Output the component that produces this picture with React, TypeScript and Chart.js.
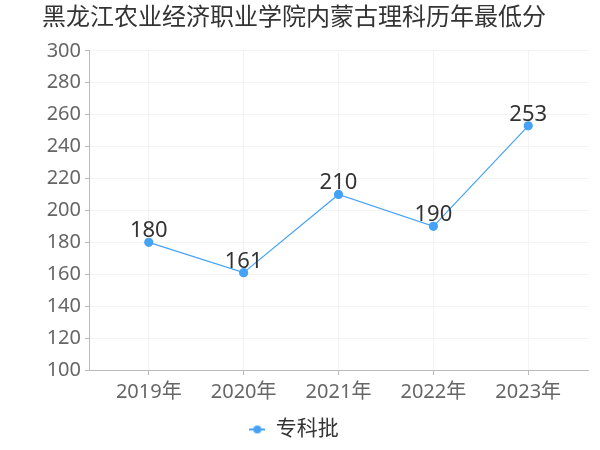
import React, { useEffect, useRef } from "react";
import { Chart, registerables } from "chart.js";

Chart.register(...registerables);

const titleText = "黑龙江农业经济职业学院内蒙古理科历年最低分";
const categories = ["2019年", "2020年", "2021年", "2022年", "2023年"];
const seriesName = "专科批";
const seriesValues = [180, 161, 210, 190, 253];
const yMin = 100;
const yMax = 300;
const yStep = 20;

const FONT = '"Noto Sans", "Noto Sans CJK SC", sans-serif';
const LINE_COLOR = "#45a2f7";

function makeLegendIcon(): HTMLCanvasElement {
  const c = document.createElement("canvas");
  c.width = 16;
  c.height = 10;
  const ctx = c.getContext("2d")!;
  ctx.strokeStyle = LINE_COLOR;
  ctx.lineWidth = 2;
  ctx.beginPath();
  ctx.moveTo(0, 5);
  ctx.lineTo(16, 5);
  ctx.stroke();
  ctx.fillStyle = LINE_COLOR;
  ctx.beginPath();
  ctx.arc(8, 5, 4, 0, Math.PI * 2);
  ctx.fill();
  return c;
}

const valueLabels = {
  id: "valueLabels",
  afterDatasetsDraw(chart: any) {
    const ctx = chart.ctx;
    const meta = chart.getDatasetMeta(0);
    const ds = chart.data.datasets[0];
    ctx.save();
    ctx.font = `22px ${FONT}`;
    ctx.fillStyle = "#333333";
    ctx.textAlign = "center";
    ctx.textBaseline = "alphabetic";
    meta.data.forEach((pt: any, i: number) => {
      const v = ds.data[i].y;
      ctx.fillText(String(v), pt.x, pt.y - 5);
    });
    ctx.restore();
  },
};

export default function App() {
  const ref = useRef<HTMLCanvasElement | null>(null);
  useEffect(() => {
    document.body.style.margin = "0";
    if (!ref.current) return;
    const chart = new Chart(ref.current, {
      type: "line",
      data: {
        datasets: [
          {
            label: seriesName,
            data: seriesValues.map((v, i) => ({ x: i, y: v })),
            borderColor: LINE_COLOR,
            backgroundColor: LINE_COLOR,
            borderWidth: 1.2,
            pointRadius: 4,
            pointHoverRadius: 4,
            pointBackgroundColor: LINE_COLOR,
            pointBorderColor: LINE_COLOR,
            tension: 0,
          },
        ],
      },
      options: {
        animation: false,
        responsive: false,
        maintainAspectRatio: false,
        layout: { padding: { left: 0, right: 12, top: 0, bottom: 0 } },
        plugins: {
          title: {
            display: true,
            text: titleText,
            color: "#333333",
            font: { family: FONT, size: 24, weight: "normal" },
            padding: { top: 4, bottom: 18 },
          },
          legend: {
            display: true,
            position: "bottom",
            labels: {
              usePointStyle: true,
              pointStyle: makeLegendIcon() as any,
              pointStyleWidth: 16,
              color: "#333333",
              font: { family: FONT, size: 21 },
              padding: 6,
            },
          },
          tooltip: { enabled: false },
        },
        scales: {
          x: {
            type: "linear",
            min: -0.63,
            max: 4.63,
            afterFit(scale: any) {
              scale.height = 43;
            },
            ticks: {
              stepSize: 1,
              includeBounds: false,
              color: "#666666",
              font: { family: FONT, size: 20 },
              padding: 5,
              maxRotation: 0,
              autoSkip: false,
              callback: (v: any) => {
                const n = Number(v);
                return Number.isInteger(n) && categories[n] ? categories[n] : "";
              },
            },
            grid: {
              color: "#f3f3f3",
              tickColor: "#bbbbbb",
              tickLength: 5,
            },
            border: { color: "#bbbbbb" },
          },
          y: {
            min: yMin,
            max: yMax,
            afterFit(scale: any) {
              scale.width = 89;
            },
            ticks: {
              stepSize: yStep,
              color: "#666666",
              font: { family: FONT, size: 20 },
              padding: 4,
            },
            grid: {
              color: "#f3f3f3",
              tickColor: "#bbbbbb",
              tickLength: 4,
            },
            border: { color: "#bbbbbb" },
          },
        },
      },
      plugins: [valueLabels],
    });
    return () => chart.destroy();
  }, []);
  return (
    <div style={{ width: 600, height: 450 }}>
      <canvas ref={ref} width={600} height={450} style={{ width: 600, height: 450 }} />
    </div>
  );
}
